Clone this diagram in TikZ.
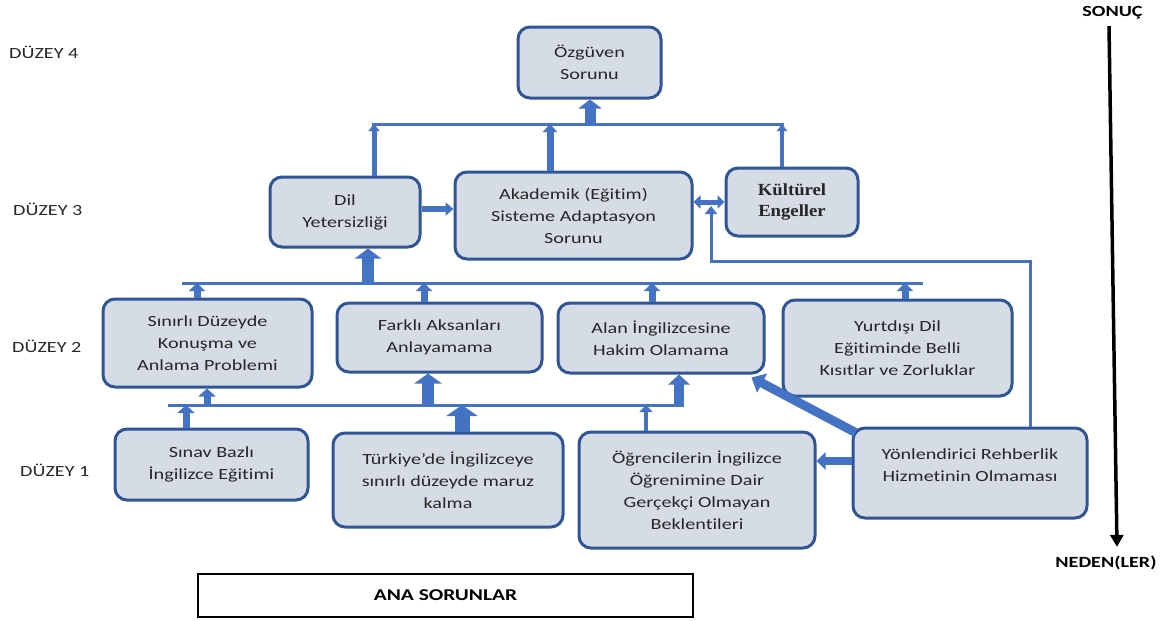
\documentclass[tikz,border=0pt]{standalone}
\usepackage{fontspec}
\setmainfont{Carlito}[FakeStretch=1.3, Ligatures=NoCommon]
\newfontfamily\kserif{Liberation Serif}[FakeStretch=1.1]
\usetikzlibrary{arrows.meta}
\definecolor{boxf}{HTML}{D6DCE5}
\definecolor{boxd}{HTML}{2F5597}
\definecolor{arrc}{HTML}{4472C4}
\definecolor{txt}{HTML}{262626}
\begin{document}
\begin{tikzpicture}[x=1pt,y=-1pt,
  bx/.style 2 args={draw=boxd, line width=3pt, fill=boxf, rounded corners=12pt, align=center, inner sep=0pt, minimum width=#1pt, minimum height=#2pt, text=txt, font=\fontsize{15.5}{22}\selectfont},
  lbl/.style={text=txt, font=\fontsize{15.5}{19}\selectfont, inner sep=0pt},
  blbl/.style={text=black, font=\fontsize{15.5}{19}\selectfont\bfseries, inner sep=0pt},
  bus/.style={draw=arrc, line width=3pt},
  blk/.style n args={3}{draw=arrc, fill=arrc, line width=#1pt, -{Triangle[width=#2pt,length=#3pt]}},
  dblk/.style={draw=arrc, fill=arrc, line width=5pt, {Triangle[width=13pt,length=7pt]}-{Triangle[width=13pt,length=7pt]}},
]
\useasboundingbox (0,0) rectangle (1168,621);

% level labels
\node[lbl, anchor=west] (d4) at (9,52) {DÜZEY 4};
\node[lbl, anchor=west] (d3) at (13,209) {DÜZEY 3};
\node[lbl, anchor=west] (d2) at (12,346) {DÜZEY 2};
\node[lbl, anchor=west] (d1) at (20,470) {DÜZEY 1};
\node[blbl] (sonuc) at (1112.5,13) {SONUÇ};
\node[blbl] (neden) at (1106,563) {NEDEN(LER)};
\node[draw=black, line width=1.2pt, minimum width=495pt, minimum height=43pt, inner sep=0pt, blbl, font=\fontsize{16.5}{19}\selectfont\bfseries] (ana) at (445.5,595.5) {ANA SORUNLAR};

% boxes
\node[bx={143}{71}] (oz) at (589.5,62.5) {Özgüven\\Sorunu};
\node[bx={150}{70}] (dil) at (345,212) {Dil\\Yetersizliği};
\node[bx={237}{87}] (ak) at (573.5,215.5) {Akademik (Eğitim)\\Sisteme Adaptasyon\\Sorunu};
\node[bx={132}{68}, font=\kserif\bfseries\fontsize{17}{21}\selectfont] (kul) at (792,202) {Kültürel\\Engeller};
\node[bx={209}{88}] (sin) at (207.5,343) {Sınırlı Düzeyde\\Konuşma ve\\Anlama Problemi};
\node[bx={205}{69}] (far) at (439.5,337.5) {Farklı Aksanları\\Anlayamama};
\node[bx={206}{70}] (alan) at (661,338) {Alan İngilizcesine\\Hakim Olamama};
\node[bx={229}{96}] (yurt) at (897.5,348) {Yurtdışı Dil\\Eğitiminde Belli\\Kısıtlar ve Zorluklar};
\node[bx={193}{71}] (sinav) at (211.5,464.5) {Sınav Bazlı\\İngilizce Eğitimi};
\node[bx={230}{94}] (turk) at (448,480) {Türkiye’de İngilizceye\\sınırlı düzeyde maruz\\kalma};
\node[bx={236}{116}] (ogr) at (697,490) {Öğrencilerin İngilizce\\Öğrenimine Dair\\Gerçekçi Olmayan\\Beklentileri};
\node[bx={234}{90}] (yon) at (970,473) {Yönlendirici Rehberlik\\Hizmetinin Olmaması\\[-12pt]\strut};

% cause -> result axis
\draw[line width=3.5pt, -{Triangle[width=13pt,length=12pt]}] ([xshift=-3.5pt,yshift=-6.5pt]sonuc.south) -- ([xshift=11pt,yshift=9pt]neden.north);

% level 4 bus
\coordinate (j0) at (590,124);
\coordinate (b1L) at (372,124);
\coordinate (b1R) at (784,124);
\coordinate (j1) at (374,124);
\coordinate (j2) at (550,124);
\coordinate (j3) at (782,124);
\draw[bus] (b1L) -- (b1R);
\draw[blk={11}{23}{9}] (j0) -- (oz.south -| j0);
\draw[blk={5}{11}{7}] (dil.north -| j1) -- (j1);
\draw[blk={7}{14}{8}] (ak.north -| j2) -- (j2);
\draw[blk={4}{10}{7}] (kul.north -| j3) -- (j3);

% level 3 links
\coordinate (j5) at (420,209);
\draw[blk={6}{13}{8}] (dil.east |- j5) -- (ak.west |- j5);
\draw[dblk] (ak.east |- kul.west) -- (kul.west);
\coordinate (r1) at (1030,261);
\coordinate (r2) at (711,261);
\coordinate (r3) at (711,206);
\draw[bus, -{Triangle[width=12pt,length=8pt]}] (yon.north -| r1) -- (r1) -- (r2) -- (r3);

% level 2 bus
\coordinate (b2L) at (182,283);
\coordinate (b2R) at (923,283);
\coordinate (j4) at (368,283);
\coordinate (k1) at (197,283);
\coordinate (k2) at (424,283);
\coordinate (k3) at (652,283);
\coordinate (k4) at (905,283);
\draw[bus] (b2L) -- (b2R);
\draw[blk={12}{26}{10}] (j4) -- (dil.south -| j4);
\draw[blk={7}{16}{8}] (sin.north -| k1) -- (k1);
\draw[blk={7}{16}{8}] (far.north -| k2) -- (k2);
\draw[blk={7}{16}{8}] (alan.north -| k3) -- (k3);
\draw[blk={7}{16}{8}] (yurt.north -| k4) -- (k4);

% level 1 bus
\coordinate (b3L) at (168,405);
\coordinate (b3R) at (684,405);
\coordinate (m1) at (679,406.5);
\coordinate (m2) at (428,405);
\coordinate (m3) at (207,405);
\coordinate (m4) at (186,405);
\coordinate (m5) at (462,405);
\coordinate (m6) at (646,405);
\draw[bus] (b3L) -- (b3R);
\draw[blk={10}{21}{10}] (m1) -- (alan.south -| m1);
\draw[blk={12}{27}{10}] (m2) -- (far.south -| m2);
\draw[blk={7}{17}{8}] (m3) -- (sin.south -| m3);
\draw[blk={7}{17}{8}] (sinav.north -| m4) -- (m4);
\draw[blk={15}{31}{11}] (turk.north -| m5) -- (m5);
\draw[blk={4}{13}{7}] (ogr.north -| m6) -- (m6);

% guidance links
\coordinate (q1) at (853,461);
\draw[blk={8}{17}{9}] (yon.west |- q1) -- (ogr.east |- q1);
\draw[blk={9}{21}{12}] ([shift={(4,6)}]yon.north west) -- ([shift={(-14,3)}]alan.south east);
\end{tikzpicture}
\end{document}
